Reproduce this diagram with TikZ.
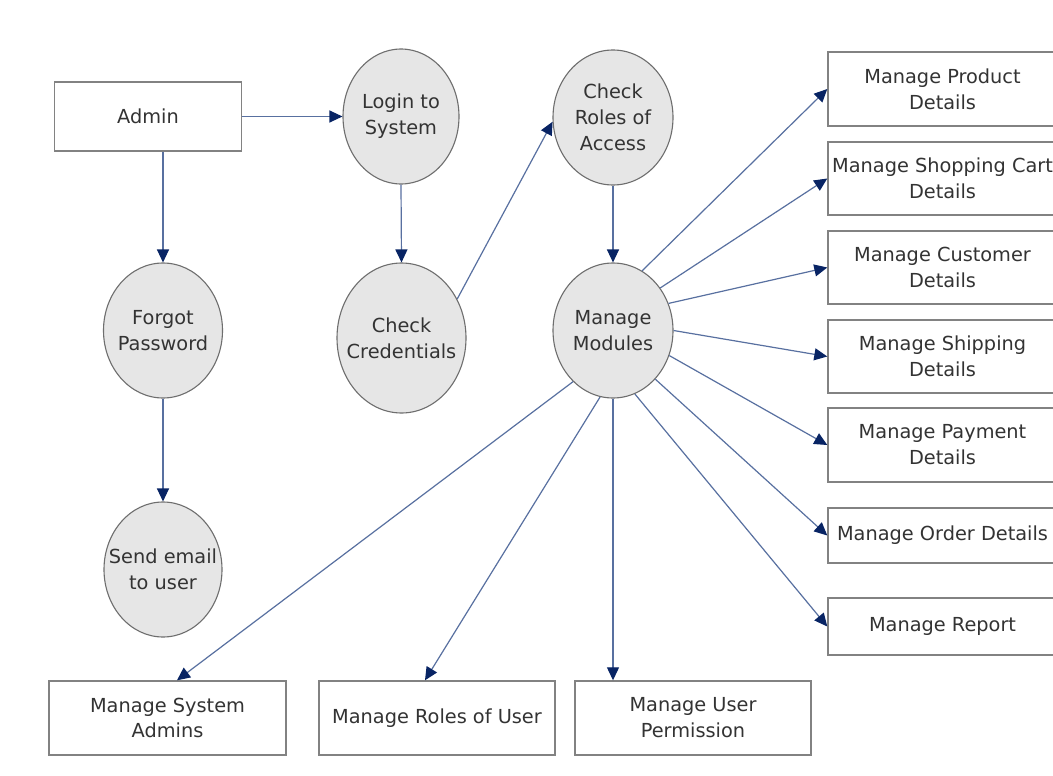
\documentclass[tikz,border=0pt]{standalone}
\usepackage{fontspec}
\setmainfont{DejaVu Sans}
\usetikzlibrary{shapes.geometric,arrows.meta}
\definecolor{edgec}{RGB}{88,112,160}
\definecolor{tipc}{RGB}{8,36,100}
\definecolor{ellfill}{RGB}{230,230,230}
\definecolor{ellline}{RGB}{110,110,110}
\definecolor{boxline}{RGB}{130,130,130}
\definecolor{txtc}{RGB}{51,51,51}
\begin{document}
\begin{tikzpicture}[x=1bp,y=-1bp,
  lbl/.style={font=\fontsize{19.4}{26}\selectfont, text=txtc, align=center, inner sep=0pt},
  proc/.style={ellipse, draw=ellline, line width=1.1bp, fill=ellfill, inner sep=0pt},
  ent/.style={lbl, rectangle, draw=boxline, line width=1.4bp, fill=white},
  rbox/.style={ent, minimum width=229bp},
  bbox/.style={ent, minimum width=236bp, minimum height=74bp},
  flow/.style={draw=edgec, line width=1.2bp, -{Triangle[length=13bp,width=12bp,color=tipc]}}
]
\useasboundingbox (0,0) rectangle (1053,776);
\fill[white] (0,0) rectangle (1053,776);

% entities
\node[ent, minimum width=187bp, minimum height=69bp] (admin) at (148,116.5) {Admin};

% processes (label placed at centre so that the ellipse keeps its own size)
\node[proc, minimum width=116bp, minimum height=135bp,
  label={[lbl]center:Login to\\System}] (login) at (401,116.5) {};
\node[proc, minimum width=120bp, minimum height=135bp,
  label={[lbl]center:Check\\Roles of\\Access}] (chk) at (613,117.5) {};
\node[proc, minimum width=119bp, minimum height=135bp,
  label={[lbl]center:Forgot\\Password}] (forgot) at (163,330.5) {};
\node[proc, minimum width=129bp, minimum height=150bp,
  label={[lbl]center:Check\\Credentials}] (cred) at (401.5,338) {};
\node[proc, minimum width=120bp, minimum height=135bp,
  label={[lbl]center:Manage\\Modules}] (mm) at (613,330.5) {};
\node[proc, minimum width=118bp, minimum height=135bp,
  label={[lbl]center:Send email\\to user}] (email) at (163,569.5) {};

% right boxes
\node[rbox, minimum height=74bp] (prod) at (942.5,89) {Manage Product\\Details};
\node[rbox, minimum height=73bp] (cart) at (942.5,178.5) {Manage Shopping Cart\\Details};
\node[rbox, minimum height=73bp] (cust) at (942.5,267.5) {Manage Customer\\Details};
\node[rbox, minimum height=73bp] (ship) at (942.5,356.5) {Manage Shipping\\Details};
\node[rbox, minimum height=74bp] (pay) at (942.5,445) {Manage Payment\\Details};
\node[rbox, minimum height=55bp] (order) at (942.5,535.5) {Manage Order Details};
\node[rbox, minimum height=57bp] (report) at (942.5,626.5) {Manage Report};

% bottom boxes
\node[bbox, minimum width=237bp] (sysadm) at (167.5,718) {Manage System\\Admins};
\node[bbox] (roles) at (437,718) {Manage Roles of User};
\node[bbox] (perm) at (693,718) {Manage User\\Permission};

% connectors
\draw[flow] (admin.east) -- (login.west);
\draw[flow] (forgot.north |- admin.south) -- (forgot.north);
\draw[flow] (login.south) -- (cred.north);
\draw[flow] (forgot.south) -- (email.north);
\draw[flow] (cred.35) -- (chk.184);
\draw[flow] (chk.south) -- (mm.north);

\draw[flow] (mm.64) -- (prod.west);
\draw[flow] (mm.42) -- (cart.west);
\draw[flow] (mm.26.6) -- (cust.west);
\draw[flow] (mm.0) -- (ship.west);
\draw[flow] (mm.-24.5) -- (pay.west);
\draw[flow] (mm.-49.7) -- (order.west);
\draw[flow] (mm.-71.2) -- (report.west);
\draw[flow] (mm.south) -- (mm.south |- perm.north);
\draw[flow] (mm.-101) -- ([xshift=-12bp]roles.north);
\draw[flow] (mm.-128.5) -- ([xshift=9.5bp]sysadm.north);
\end{tikzpicture}
\end{document}
